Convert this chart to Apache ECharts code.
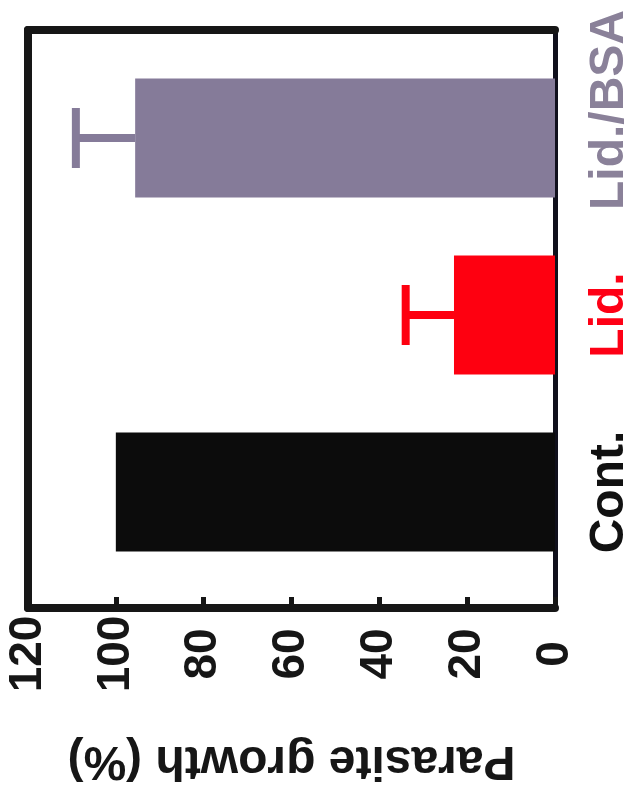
<!DOCTYPE html>
<html>
<head>
<meta charset="utf-8">
<script src="https://cdn.jsdelivr.net/npm/echarts@6/dist/echarts.min.js"></script>
<style>
  html, body { margin: 0; padding: 0; background: #fff; }
  #main { width: 635px; height: 802px; }
</style>
</head>
<body>
<div id="main"></div>
<script>
// data
var categories = ['Cont.', 'Lid.', 'Lid./BSA'];
var growth = [100, 23, 95.6];
var errUpper = [0, 11, 13.5];
var valueTicks = [0, 20, 40, 60, 80, 100, 120];

var barColors = ['#0c0c0c', '#fe0010', '#857b99'];
var labelColors = ['#111111', '#fe0015', '#8a8199'];
var font = "'Liberation Sans', Arial, Helvetica, sans-serif";

var myChart = echarts.init(document.getElementById('main'));

var errData = [];
categories.forEach(function (c, i) {
    if (errUpper[i] > 0) {
        errData.push([i, growth[i], growth[i] + errUpper[i]]);
    }
});

var hidden = { show: false };
var frameLine = { show: true, onZero: false, lineStyle: { color: '#161616', width: 8 } };

var option = {
    backgroundColor: '#fff',
    animation: false,
    grid: [
        // frame
        { left: 28, right: 80, top: 30, bottom: 194, outerBoundsMode: 'none', containLabel: false },
        // bars
        { left: 28, right: 80, top: 49.5, height: 531, outerBoundsMode: 'none', containLabel: false }
    ],
    xAxis: [
        {
            gridIndex: 0, type: 'value', position: 'bottom',
            min: valueTicks[0], max: valueTicks[valueTicks.length - 1], interval: 20,
            inverse: true,
            axisLine: frameLine,
            axisTick: { show: true, inside: true, length: 11, lineStyle: { color: '#161616', width: 5 } },
            splitLine: hidden,
            axisLabel: {
                rotate: 90, align: 'center', verticalAlign: 'middle', margin: 46,
                hideOverlap: false,
                fontSize: 46, fontWeight: 'bold', fontFamily: font, color: '#161616'
            },
            name: 'Parasite growth (%)',
            nameLocation: 'middle',
            nameRotate: 180,
            nameGap: 152,
            nameTextStyle: {
                fontSize: 48, fontWeight: 'bold', fontFamily: font, color: '#161616',
                align: 'center', verticalAlign: 'middle'
            }
        },
        {
            gridIndex: 0, type: 'value', position: 'top', min: 0, max: 120, inverse: true,
            axisLine: frameLine,
            axisTick: hidden, axisLabel: hidden, splitLine: hidden
        },
        {
            gridIndex: 1, type: 'value', min: 0, max: 120, inverse: true,
            axisLine: hidden, axisTick: hidden, axisLabel: hidden, splitLine: hidden
        }
    ],
    yAxis: [
        {
            gridIndex: 0, type: 'value', position: 'left', min: 0, max: 1,
            axisLine: frameLine,
            axisTick: hidden, axisLabel: hidden, splitLine: hidden
        },
        {
            gridIndex: 0, type: 'value', position: 'right', min: 0, max: 1,
            axisLine: { show: true, onZero: false, lineStyle: { color: '#10101c', width: 5 } },
            axisTick: hidden, axisLabel: hidden, splitLine: hidden
        },
        {
            gridIndex: 1, type: 'category', position: 'right',
            data: categories,
            axisLine: hidden, axisTick: hidden, splitLine: hidden,
            axisLabel: {
                interval: 0, hideOverlap: false,
                rotate: 90, align: 'center', verticalAlign: 'middle', margin: 55,
                fontSize: 48, fontWeight: 'bold', fontFamily: font,
                color: function (value) {
                    return labelColors[categories.indexOf(value)];
                },
                // the last label sits a little higher in the figure
                formatter: function (value, index) {
                    return index === categories.length - 1 ? '{up|' + value + '}' : value;
                },
                rich: {
                    up: {
                        fontSize: 48, fontWeight: 'bold', fontFamily: font,
                        color: labelColors[2], padding: [0, 0, 0, 56]
                    }
                }
            }
        }
    ],
    series: [
        {
            type: 'bar',
            xAxisIndex: 2, yAxisIndex: 2,
            barWidth: 119,
            data: growth.map(function (v, i) {
                return { value: v, itemStyle: { color: barColors[i] } };
            }),
            z: 2
        },
        {
            type: 'custom',
            xAxisIndex: 2, yAxisIndex: 2,
            encode: { x: [1, 2], y: 0 },
            data: errData,
            z: 1,
            renderItem: function (params, api) {
                var i = api.value(0);
                var p0 = api.coord([api.value(1), i]);
                var p1 = api.coord([api.value(2), i]);
                var col = barColors[i];
                return {
                    type: 'group',
                    children: [
                        { type: 'line', shape: { x1: p0[0], y1: p0[1], x2: p1[0], y2: p1[1] },
                          style: { stroke: col, lineWidth: 8 } },
                        { type: 'line', shape: { x1: p1[0], y1: p1[1] - 30, x2: p1[0], y2: p1[1] + 30 },
                          style: { stroke: col, lineWidth: 8 } }
                    ]
                };
            }
        }
    ]
};

myChart.setOption(option);
</script>
</body>
</html>
